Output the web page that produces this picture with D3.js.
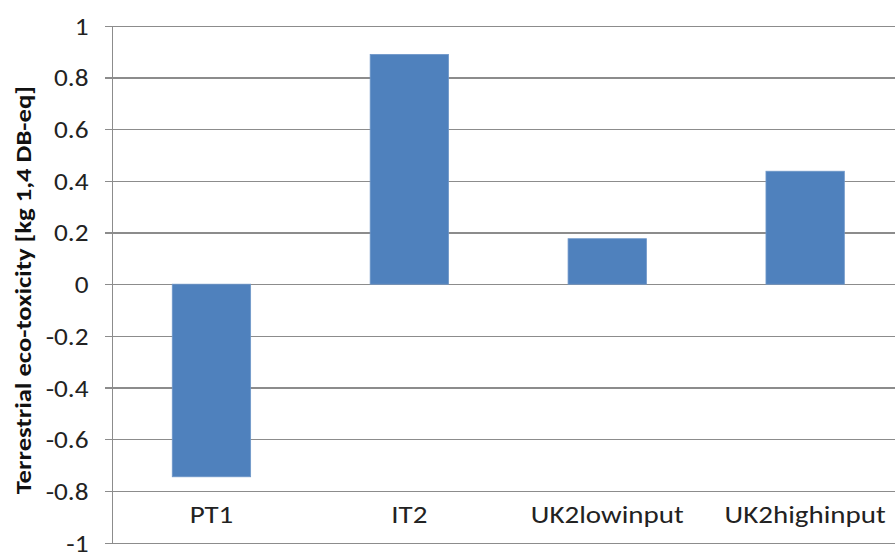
<!DOCTYPE html>
<html>
<head>
<meta charset="utf-8">
<script src="https://cdn.jsdelivr.net/npm/d3@7"></script>
<style>
  html, body { margin: 0; padding: 0; background: #fff; overflow: hidden; }
  svg { display: block; }
</style>
</head>
<body>
<svg id="chart" width="895" height="552"></svg>
<script>
// Terrestrial eco-toxicity per scenario
const categories = ["PT1", "IT2", "UK2lowinput", "UK2highinput"];
const values = [-0.745, 0.889, 0.176, 0.437];
const yTicks = [-1, -0.8, -0.6, -0.4, -0.2, 0, 0.2, 0.4, 0.6, 0.8, 1];
const yTitle = "Terrestrial eco-toxicity [kg 1,4 DB-eq]";

const W = 895, H = 552;
const plot = { left: 112.5, top: 25.7, bottom: 542.7, bandW: 197.9 };
const font = "Carlito, Lato, 'Open Sans', sans-serif";
const stretch = 1.16;          // widen glyphs horizontally
const gridColor = "#8c8c8c";
const barColor = "#4f81bd";

const svg = d3.select("#chart");

const x = d3.scaleBand()
  .domain(categories)
  .range([plot.left, plot.left + plot.bandW * categories.length])
  .paddingInner(0.604)
  .paddingOuter(0.302);

const y = d3.scaleLinear()
  .domain([-1, 1])
  .range([plot.bottom, plot.top]);

// horizontal gridlines with short ticks left of the axis
const yAxis = d3.axisLeft(y)
  .tickValues(yTicks)
  .tickSize(-(W - plot.left + 20))
  .tickPadding(0)
  .tickFormat(d => String(+d.toFixed(1)));

const gy = svg.append("g")
  .attr("transform", `translate(${plot.left},0)`)
  .call(yAxis);
gy.select(".domain").remove();
gy.selectAll(".tick line")
  .attr("x1", -8)
  .attr("stroke", gridColor)
  .attr("stroke-width", 1.3)
  .attr("shape-rendering", "crispEdges");
gy.selectAll(".tick text")
  .attr("x", 0)
  .attr("dy", "0.36em")
  .attr("transform", `translate(-24,0) scale(${stretch},1)`)
  .attr("text-anchor", "end")
  .attr("fill", "#222")
  .style("font-family", font)
  .style("font-size", "23.5px");

// vertical axis line
svg.append("line")
  .attr("x1", plot.left).attr("x2", plot.left)
  .attr("y1", y(1)).attr("y2", y(-1))
  .attr("stroke", gridColor)
  .attr("stroke-width", 1.3)
  .attr("shape-rendering", "crispEdges");

// bars from zero
svg.append("g").selectAll("rect")
  .data(categories.map((c, i) => ({ c, v: values[i] })))
  .join("rect")
  .attr("x", d => x(d.c))
  .attr("width", x.bandwidth())
  .attr("y", d => y(Math.max(0, d.v)))
  .attr("height", d => Math.abs(y(d.v) - y(0)))
  .attr("fill", barColor)
  .attr("stroke", "#6f97c9")
  .attr("stroke-width", 0.8);

// category labels sit between -0.8 and -1
svg.append("g").selectAll("text")
  .data(categories)
  .join("text")
  .attr("transform", d => `translate(${x(d) + x.bandwidth() / 2},${y(-0.925)}) scale(${stretch},1)`)
  .attr("text-anchor", "middle")
  .attr("fill", "#222")
  .style("font-family", font)
  .style("font-size", "25px")
  .text(d => d);

// y axis title
svg.append("text")
  .attr("transform", `translate(31,${(plot.top + plot.bottom) / 2 + 6}) rotate(-90) scale(${stretch},1)`)
  .attr("text-anchor", "middle")
  .attr("fill", "#111")
  .style("font-family", font)
  .style("font-weight", "bold")
  .style("font-size", "23px")
  .text(yTitle);
</script>
</body>
</html>
